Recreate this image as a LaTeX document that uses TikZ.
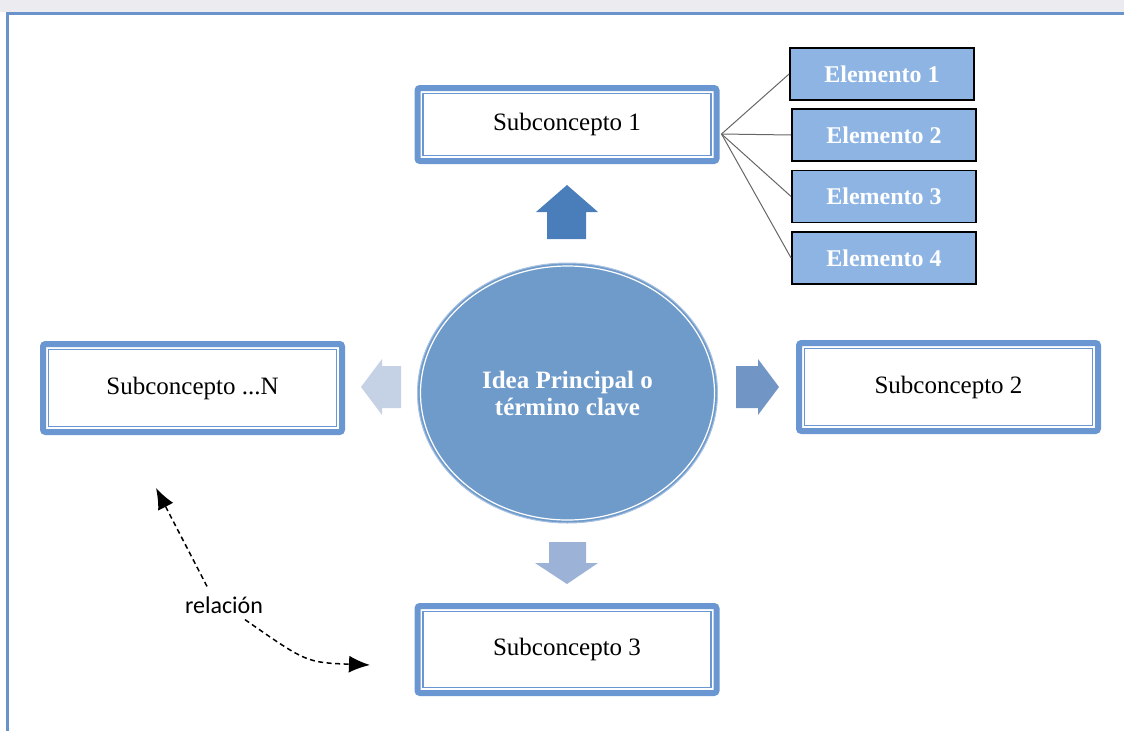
\documentclass[tikz,border=0pt]{standalone}
\usepackage{fontspec}
\setmainfont{Liberation Serif}
\newfontfamily\labelfont{Carlito}
\usetikzlibrary{arrows.meta,shapes.geometric,calc}

\definecolor{bandgray}{HTML}{ECECF0}
\definecolor{framecol}{HTML}{6A93CB}
\definecolor{boxblue}{HTML}{6A97D2}
\definecolor{elemfill}{HTML}{8DB4E3}
\definecolor{circfill}{HTML}{6F9BCB}
\definecolor{circedge}{HTML}{A9C2E2}
\definecolor{arrowup}{HTML}{4A7EBB}
\definecolor{arrowright}{HTML}{7196C6}
\definecolor{arrowdown}{HTML}{9CB2D6}
\definecolor{arrowleft}{HTML}{C5D2E6}

\begin{document}
\begin{tikzpicture}[x=1pt,y=-1pt,
  subbox/.style={draw=boxblue, line width=6pt, rounded corners=2.5pt, fill=white,
    minimum width=299pt, minimum height=88pt, inner sep=0pt,
    font=\fontsize{25}{30}\selectfont},
  innerline/.style={draw=boxblue, line width=1.6pt},
  elembox/.style={draw=black, line width=1.8pt, fill=elemfill, text=white,
    minimum width=184pt, minimum height=52pt, inner sep=0pt,
    font=\bfseries\fontsize{24}{28}\selectfont},
  elemline/.style={draw=black!60, line width=1pt},
  relarrow/.style={dash pattern=on 5pt off 3.5pt, line width=1.5pt,
    -{Latex[length=21pt,width=17pt]}}
]
\useasboundingbox (0,0) rectangle (1124,731);

% page band and frame
\fill[bandgray] (0,0) rectangle (1124,12);
\draw[framecol, line width=2.5pt] (7.7,731) -- (7.7,13.5) -- (1124,13.5);

% central idea
\node[ellipse, fill=circfill, draw=circedge, line width=1pt,
      minimum width=300pt, minimum height=260pt, inner sep=0pt,
      text=white, align=center, font=\bfseries\fontsize{25}{27}\selectfont]
      (idea) at (567.5,393) {Idea Principal o\\término clave};
\draw[white, line width=1.2pt] (idea.center) ellipse [x radius=147pt, y radius=127pt];

% subconcepts, each with a thick outer and a thin inner border
% (anchors sit on the outer edge of the thick line)
\node[subbox, minimum height=73pt] (s1) at (567,124.5) {Subconcepto 1};
\node[subbox] (s2) at (948.5,387) {Subconcepto 2};
\node[subbox, minimum height=87pt] (s3) at (567,649.5) {Subconcepto 3};
\node[subbox] (sN) at (192.5,388) {Subconcepto ...N};
\foreach \bx in {s1,s2,s3,sN}
  \draw[innerline] ($(\bx.north west)+(8.6,8.6)$) rectangle ($(\bx.south east)+(-8.6,-8.6)$);

% block arrows out of the central idea
\fill[arrowup] (567,185) -- (598,212) -- (586,212) -- (586,239) -- (547,239) -- (547,212) -- (536,212) -- cycle;
\fill[arrowdown] (567,584) -- (598,563) -- (586,563) -- (586,542) -- (549,542) -- (549,563) -- (535,563) -- cycle;
\fill[arrowright] (779,387) -- (758,415) -- (758,408) -- (736,408) -- (736,366) -- (758,366) -- (758,359) -- cycle;
\fill[arrowleft] (361,387) -- (382,415) -- (382,408) -- (401,408) -- (401,366) -- (382,366) -- (382,359) -- cycle;

% elements of subconcept 1
\node[elembox] (e1) at (882,74) {Elemento 1};
\node[elembox] (e2) at (884,135) {Elemento 2};
\node[elembox] (e3) at (884,196.5) {Elemento 3};
\node[elembox] (e4) at (884,258) {Elemento 4};
\coordinate (hub) at ([xshift=2pt,yshift=-9.5pt]s1.east);
\foreach \e in {e1,e2,e3,e4}
  \draw[elemline] (hub) -- (\e.west);

% relation between subconcepts
\node[font=\labelfont\fontsize{24}{28}\selectfont, inner sep=0pt] (rel) at (224,605) {relación};
\coordinate (relA) at (156,488);
\coordinate (relB) at (370,665);
\draw[relarrow] ([xshift=-17pt,yshift=10pt]rel.north) -- (relA);
\draw[relarrow] ([xshift=21pt,yshift=-6pt]rel.south) .. controls (306.5,662.5) .. (relB);
\end{tikzpicture}
\end{document}
